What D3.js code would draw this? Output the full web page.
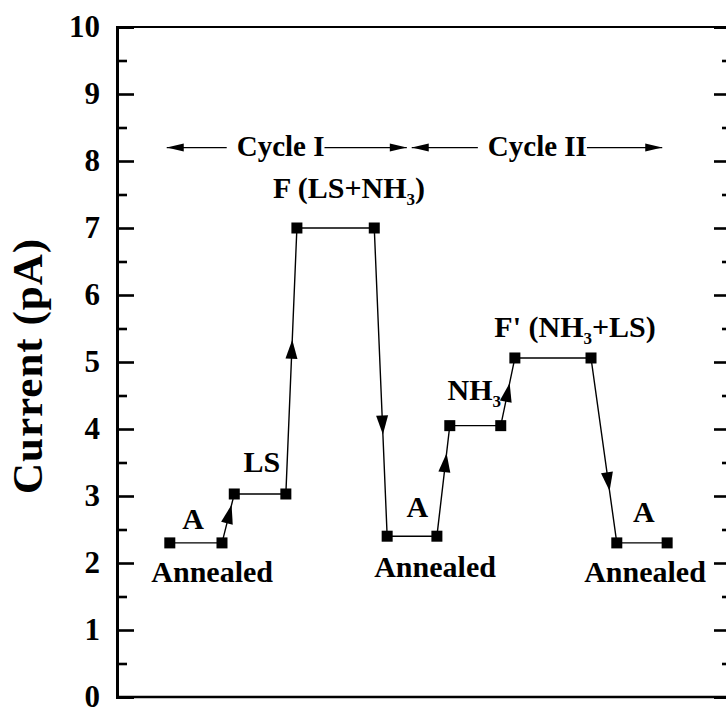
<!DOCTYPE html>
<html><head><meta charset="utf-8">
<script src="https://cdn.jsdelivr.net/npm/d3@7/dist/d3.min.js"></script>
<style>
html,body{margin:0;padding:0;background:#fff;}
svg{display:block;}
text{font-family:"Liberation Serif","Times New Roman",serif;font-weight:bold;fill:#000;}
</style></head>
<body>
<svg id="chart" width="726" height="709"></svg>
<script>
// ---- data ----
const steps   = [8.6, 17.1, 19.1, 27.5, 29.3, 41.9, 44.0, 52.1, 54.2, 62.5, 64.8, 77.2, 81.4, 89.6];
const current = [2.3, 2.3, 3.03, 3.03, 7.0, 7.0, 2.4, 2.4, 4.05, 4.05, 5.06, 5.06, 2.3, 2.3];
const yTicks = [0,1,2,3,4,5,6,7,8,9,10];
const yMinorTicks = [0.5,1.5,2.5,3.5,4.5,5.5,6.5,7.5,8.5,9.5];
const transitionSegments = [1, 3, 5, 7, 9, 11];
const transitionArrowAt  = [0.78, 0.58, 0.67, 0.75, 0.63, 0.72];
const cycleNames = ["Cycle I", "Cycle II"];
const cycleFrom  = [8.1, 48.0];
const cycleTo    = [47.2, 88.8];
const cycleTextStart = [19.5, 60.4];
const cycleLevel = 8.2;
const labelTexts = ["A", "Annealed", "LS", "F (LS+NH|3|)", "A", "Annealed", "NH|3|", "F' (NH|3|+LS)", "A", "Annealed"];
const labelX     = [12.4, 15.5, 23.6, 37.8, 48.9, 51.8, 58.2, 74.6, 85.8, 86.0];
const labelY     = [2.51, 1.72, 3.36, 7.45, 2.69, 1.79, 4.43, 5.37, 2.61, 1.72];
const yTitle = "Current (pA)";

// ---- layout ----
const svg = d3.select("#chart");
const L = 117, R = 731, T = 27, B = 697;
const x = d3.scaleLinear().domain([0, 100]).range([L, R]);
const y = d3.scaleLinear().domain([0, 10]).range([B, T]);

// frame
svg.append("line").attr("x1", L).attr("x2", 726).attr("y1", T).attr("y2", T)
  .attr("stroke", "#000").attr("stroke-width", 2);
svg.append("line").attr("x1", L - 1).attr("x2", 726).attr("y1", B).attr("y2", B)
  .attr("stroke", "#000").attr("stroke-width", 2.5);

// left axis
const gL = svg.append("g").attr("transform", `translate(${L},0)`)
  .call(d3.axisLeft(y).tickValues(yTicks).tickSize(-17).tickPadding(17).tickFormat(d3.format("d")));
gL.select(".domain").attr("stroke-width", 3);
gL.selectAll(".tick line").attr("stroke-width", 2.6);
gL.selectAll(".tick text").attr("font-size", 31).attr("font-family", "Liberation Serif").attr("font-weight", "bold").attr("dy", "0.3em");
const gLm = svg.append("g").attr("transform", `translate(${L},0)`)
  .call(d3.axisLeft(y).tickValues(yMinorTicks).tickSize(-10).tickFormat(""));
gLm.select(".domain").remove();
gLm.selectAll(".tick line").attr("stroke-width", 2.6);

// right axis (ticks only, inward)
const gR = svg.append("g").attr("transform", `translate(${R},0)`)
  .call(d3.axisRight(y).tickValues(yTicks).tickSize(-17).tickFormat(""));
gR.select(".domain").attr("stroke-width", 3);
gR.selectAll(".tick line").attr("stroke-width", 2.6);
const gRm = svg.append("g").attr("transform", `translate(${R},0)`)
  .call(d3.axisRight(y).tickValues(yMinorTicks).tickSize(-9).tickFormat(""));
gRm.select(".domain").remove();
gRm.selectAll(".tick line").attr("stroke-width", 2.6);

// y title
svg.append("text")
  .attr("transform", `translate(42,366) rotate(-90)`)
  .attr("text-anchor", "middle").attr("font-size", 43).attr("letter-spacing", 1)
  .text(yTitle);

// data line
const pts = steps.map((s, i) => [x(s), y(current[i])]);
svg.append("path").attr("d", d3.line()(pts))
  .attr("fill", "none").attr("stroke", "#000").attr("stroke-width", 1.4);

// transition arrows
function arrowHead(tipX, tipY, dx, dy, len, half) {
  const n = Math.hypot(dx, dy), ux = dx / n, uy = dy / n;
  const bx = tipX - ux * len, by = tipY - uy * len;
  return `M${tipX},${tipY}L${bx - uy * half},${by + ux * half}L${bx + uy * half},${by - ux * half}Z`;
}
transitionSegments.forEach((si, k) => {
  const a = pts[si], b = pts[si + 1];
  const f = transitionArrowAt[k];
  const tx = a[0] + (b[0] - a[0]) * f, ty = a[1] + (b[1] - a[1]) * f;
  svg.append("path").attr("d", arrowHead(tx, ty, b[0] - a[0], b[1] - a[1], 19, 6)).attr("fill", "#000");
});

// markers
svg.selectAll("rect.pt").data(pts).join("rect").attr("class", "pt")
  .attr("x", d => d[0] - 5.5).attr("y", d => d[1] - 5.5)
  .attr("width", 11).attr("height", 11).attr("fill", "#000");

// cycle arrows
cycleNames.forEach((name, i) => {
  const cy = y(cycleLevel);
  const t = svg.append("text").attr("x", x(cycleTextStart[i])).attr("y", cy + 8)
    .attr("font-size", 29).text(name);
  const tw = t.node().getComputedTextLength();
  const x0 = x(cycleFrom[i]), x1 = x(cycleTo[i]);
  const ts = x(cycleTextStart[i]);
  svg.append("line").attr("x1", x0).attr("x2", ts - 10).attr("y1", cy).attr("y2", cy)
    .attr("stroke", "#000").attr("stroke-width", 1.4);
  svg.append("line").attr("x1", ts + tw).attr("x2", x1).attr("y1", cy).attr("y2", cy)
    .attr("stroke", "#000").attr("stroke-width", 1.4);
  svg.append("path").attr("d", arrowHead(x0, cy, -1, 0, 17, 4)).attr("fill", "#000");
  svg.append("path").attr("d", arrowHead(x1, cy, 1, 0, 17, 4)).attr("fill", "#000");
});

// annotation labels (with |sub| subscripts)
labelTexts.forEach((lab, i) => {
  const t = svg.append("text").attr("x", x(labelX[i])).attr("y", y(labelY[i]))
    .attr("text-anchor", "middle").attr("font-size", 30);
  lab.split("|").forEach((part, j) => {
    if (!part) return;
    if (j % 2 === 1) {
      t.append("tspan").attr("font-size", 17).attr("dy", 7).text(part);
    } else {
      const ts = t.append("tspan").text(part);
      if (j > 0) ts.attr("dy", -7);
    }
  });
});
</script>
</body></html>
